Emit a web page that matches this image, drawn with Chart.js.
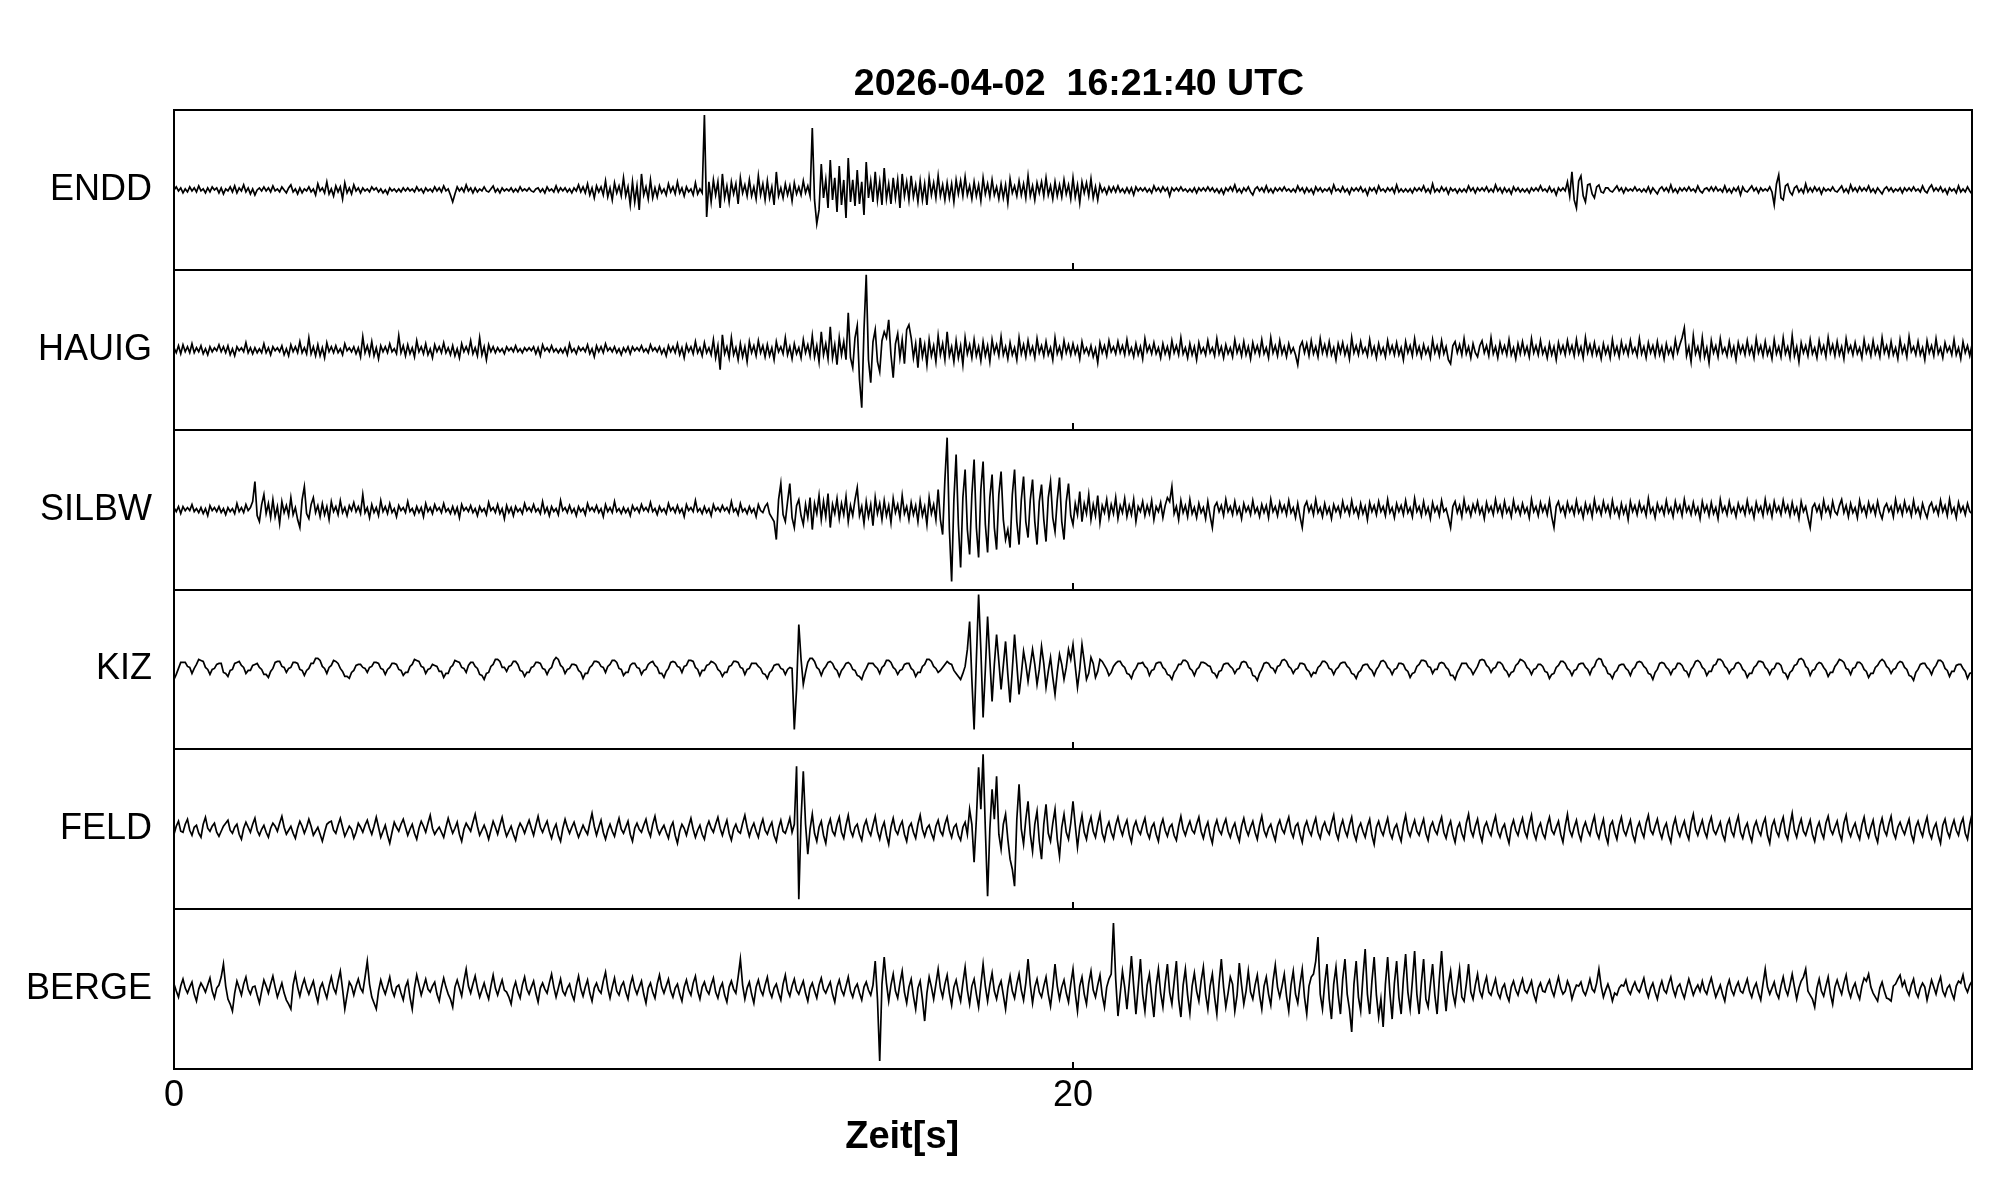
<!DOCTYPE html>
<html>
<head>
<meta charset="utf-8">
<script src="https://cdn.jsdelivr.net/npm/chart.js@4/dist/chart.umd.min.js"></script>
<style>
html,body{margin:0;padding:0;background:#fff;}
#wrap{width:2005px;height:1202px;}
</style>
</head>
<body>
<div id="wrap"><canvas id="c" width="2005" height="1202"></canvas></div>
<script>
// ---------- data ----------
const stations = ['ENDD', 'HAUIG', 'SILBW', 'KIZ', 'FELD', 'BERGE'];
const titleText = '2026-04-02  16:21:40 UTC';
const xAxisTitle = 'Zeit[s]';
const xTickValues = [0, 20];
const timeMin = 0;
const timeMax = 40;
const sampleInterval = 0.05;  // seconds between samples (20 per row = 1 s)
const panelUnits = 160;       // amplitude units spanning one panel

const endd = [
0,3,-1,2,-3,1,-2,3,-1,2,-2,4,-1,1,-3,2,-2,3,0,2,
-3,2,-4,1,-1,3,-2,4,-3,2,-1,5,-2,2,-4,1,-5,0,2,-1,
3,-1,2,-2,4,-1,1,-2,3,0,-3,2,5,-2,1,-4,2,-3,1,-1,
3,-2,1,-5,6,-1,2,-3,8,-4,1,-6,4,-2,3,-9,7,-3,2,-4,
5,-1,2,-3,2,-1,1,-2,3,0,2,-2,1,-3,0,-4,2,-1,1,-2,
1,-2,2,-1,2,-1,1,-2,3,-1,1,-3,2,-1,1,-2,3,-1,2,-2,
4,-1,1,-5,-12,-4,3,-1,2,-2,5,-1,2,-3,2,-2,1,-1,3,-1,
-2,1,4,-2,1,-3,2,-1,1,-1,2,-2,1,-2,3,-1,1,-1,2,-1,
-2,1,2,-2,1,-3,3,-1,1,-2,4,-2,2,-1,2,-2,1,-3,2,-1,
5,-2,3,-3,6,-5,2,-8,4,-2,3,-5,9,-7,2,-10,7,-3,4,-6,
12,-6,3,-15,8,-12,4,-20,16,-5,3,-9,10,-8,2,-7,4,-3,1,-5,
6,-2,3,-4,8,-3,2,-6,3,-2,1,-5,7,-4,1,-3,75,-27,8,-12,
10,-5,8,-18,16,-8,4,-12,8,-4,6,-14,12,-3,5,-6,10,-6,3,-9,
14,-5,6,-10,9,-8,3,-15,18,-6,2,-8,6,-5,4,-11,7,-4,3,-5,
9,-3,4,-6,62,-10,-34,-20,26,-8,10,-18,30,-10,12,-22,24,-15,10,-28,
32,-12,10,-16,20,-14,8,-25,28,-8,9,-12,18,-10,8,-15,22,-9,6,-14,
12,-8,10,-18,16,-6,8,-10,14,-7,5,-12,9,-10,6,-15,12,-5,7,-8,
14,-6,5,-10,7,-8,6,-12,10,-4,9,-6,13,-5,4,-9,8,-6,5,-11,
12,-4,6,-7,10,-5,3,-9,6,-8,5,-13,11,-3,4,-6,9,-5,6,-8,
14,-6,4,-10,7,-3,8,-6,12,-5,4,-9,8,-6,5,-7,10,-4,5,-9,
12,-7,5,-13,8,-3,7,-6,11,-8,3,-10,5,-2,2,-4,3,-2,3,-2,
4,-2,1,-3,2,-3,2,-5,3,-1,2,-1,2,-2,1,-3,4,-1,2,-2,
3,-1,2,-6,2,-1,2,-1,3,-1,1,-2,1,-2,2,-3,2,-1,2,-1,
3,-1,2,-2,1,-3,1,-4,2,-1,3,-1,5,-2,1,-3,2,-1,3,-2,
-5,1,3,-1,2,-2,4,-2,1,-3,2,-1,2,-1,3,-1,1,-2,1,-2,
4,-1,2,-3,2,-2,1,-4,3,-1,2,-2,1,-1,2,-3,5,-1,1,-2,
3,-2,1,-4,2,-1,2,-1,3,-2,1,-5,2,-1,2,-3,4,-1,1,-2,
2,-1,2,-3,5,-2,1,-2,1,-2,1,-3,2,-1,2,-1,4,-2,1,-3,
6,-2,1,-2,3,-1,2,-4,2,-1,1,-3,1,-2,1,-2,4,-1,2,-3,
2,-1,2,-1,3,-2,1,-2,5,-1,2,-3,2,-2,1,-4,3,-1,2,-2,
1,-2,1,-3,2,-1,2,-1,4,-1,1,-2,3,-2,1,-5,2,-1,2,-1,
8,-6,18,-10,-18,9,14,-6,-12,5,6,-4,-8,3,5,-2,-3,2,2,-1,
-2,1,4,-1,2,-3,2,-1,1,-1,3,-1,1,-2,1,-2,3,-3,2,-1,
-4,1,3,-1,2,-2,5,-2,1,-3,2,-1,2,-1,3,-1,1,-2,4,-1,
-3,1,2,-1,3,-1,3,-1,1,-2,4,-2,1,-3,2,-1,3,-5,3,-1,
-2,1,4,-1,2,-3,2,-1,1,-1,3,-2,-15,6,15,-8,-10,4,6,-2,
-5,2,4,-2,1,-3,6,-2,2,-2,3,-1,2,-4,2,-1,1,-1,3,-1,
-2,1,4,-2,1,-3,5,-1,2,-2,3,-1,2,-1,4,-2,1,-3,2,-1,
-4,1,3,-1,2,-2,1,-1,2,-3,2,-1,2,-1,3,-1,1,-2,4,-1,
-3,2,5,-1,2,-1,3,-2,1,-4,2,-1,1,-3,4,-2,1,-2,3,-1,
-4];

const hauig = [
2,-3,4,-4,5,-2,3,-3,6,-3,2,-2,4,-4,1,-5,3,-2,2,-1,
5,-2,3,-3,4,-5,1,-6,3,-1,2,-2,7,-3,2,-4,2,-3,1,-3,
6,-3,2,-5,3,-1,2,-2,4,-5,1,-6,5,-2,3,-3,8,-3,2,-4,
12,-4,3,-6,5,-6,2,-8,7,-2,3,-3,4,-3,1,-5,6,-1,2,-2,
3,-4,2,-7,13,-3,4,-5,8,-6,2,-9,4,-2,3,-3,6,-2,1,-4,
14,-3,4,-6,5,-4,2,-7,9,-2,3,-4,6,-5,1,-8,5,-2,3,-3,
7,-3,2,-5,4,-6,1,-8,6,-2,3,-3,9,-4,2,-6,12,-5,3,-10,
5,-2,3,-3,2,-2,1,-4,3,-1,2,-2,4,-2,1,-3,2,-1,2,-1,
3,-4,2,-6,5,-1,2,-2,4,-2,1,-3,1,-3,2,-5,6,-2,1,-4,
3,-1,2,-2,5,-4,1,-7,4,-2,3,-3,6,-1,2,-2,3,-3,1,-5,
2,-2,3,-4,3,-1,2,-1,4,-2,1,-3,5,-1,2,-2,3,-4,1,-6,
4,-2,3,-3,6,-5,2,-8,5,-2,3,-4,8,-3,2,-6,7,-3,2,-5,
10,-8,4,-20,15,-4,3,-8,12,-5,2,-10,6,-7,3,-12,8,-3,4,-6,
9,-3,4,-7,5,-6,2,-10,8,-2,3,-4,12,-5,3,-9,6,-4,2,-8,
10,-3,5,-6,14,-7,4,-12,18,-5,6,-9,23,-8,5,-15,12,-5,8,-10,
37,-8,-18,12,24,-30,-58,20,75,-10,-33,8,20,-12,-22,9,18,12,30,-5,
-28,6,16,-8,10,-14,20,25,12,-8,6,-18,12,-7,5,-15,10,-6,4,-12,
14,-5,6,-10,18,-6,3,-12,9,-8,4,-15,12,-4,5,-8,10,-6,3,-11,
8,-6,4,-12,10,-3,5,-6,13,-5,3,-9,7,-5,2,-10,12,-4,5,-7,
9,-4,3,-8,11,-3,4,-6,8,-5,2,-10,12,-4,3,-7,9,-3,5,-5,
6,-4,3,-9,8,-3,2,-5,4,-7,1,-13,7,-3,4,-6,9,-2,3,-4,
8,-3,4,-5,10,-4,2,-7,6,-5,3,-9,11,-2,4,-4,7,-4,2,-8,
6,-4,3,-7,9,-3,4,-5,12,-4,2,-8,6,-5,3,-10,7,-3,2,-5,
9,-3,2,-6,11,-4,3,-8,5,-4,2,-7,10,-3,4,-6,8,-5,3,-9,
7,-3,4,-5,10,-4,2,-8,12,-3,4,-6,9,-4,3,-7,6,-3,2,-5,
-15,3,8,-3,6,-6,9,-4,3,-7,11,-3,5,-5,8,-5,2,-10,6,-3,
7,-5,3,-9,12,-3,4,-5,8,-3,2,-6,10,-4,3,-8,6,-4,2,-7,
9,-3,4,-5,7,-5,2,-10,8,-3,4,-6,11,-4,3,-7,5,-4,2,-8,
10,-3,4,-6,9,-4,3,-10,-14,4,8,-3,5,-5,11,-4,3,-8,6,-3,
-7,4,9,-3,4,-6,12,-4,3,-8,7,-3,4,-5,10,-5,2,-9,6,-4,
8,-4,3,-7,11,-3,4,-5,9,-4,2,-8,6,-5,3,-10,7,-3,4,-5,
9,-3,4,-6,10,-4,3,-8,12,-3,5,-5,7,-5,2,-9,6,-4,3,-8,
10,-4,3,-7,8,-3,4,-5,9,-3,2,-6,11,-4,3,-8,7,-3,4,-6,
8,-5,3,-9,6,-4,2,-7,10,-3,5,12,22,-6,3,-12,14,-4,3,-8,
12,-7,2,-13,9,-3,4,-7,11,-3,2,-6,8,-5,3,-10,7,-3,4,-5,
9,-4,3,-8,11,-3,4,-6,8,-5,2,-9,10,-4,3,-7,12,-4,3,-8,
14,-6,3,-12,7,-3,4,-6,10,-4,2,-8,9,-3,4,-7,12,-3,5,-6,
8,-5,3,-9,11,-2,4,-5,7,-4,2,-8,10,-3,4,-6,9,-4,3,-7,
12,-3,4,-6,8,-5,2,-9,10,-3,4,-7,13,-2,3,-5,8,-5,2,-10,
9,-3,4,-6,11,-4,2,-8,7,-2,3,-5,10,-5,2,-9,8,-3,4,-6,
5];

const silbw = [
2,-2,3,-4,3,-1,2,-1,5,-2,1,-3,2,-4,1,-6,4,-1,2,-2,
3,-3,1,-5,2,-2,1,-4,6,-2,2,-3,5,-1,2,8,28,-6,-12,5,
15,-4,6,-8,10,-7,3,-14,8,-3,4,-6,12,-5,2,-10,-18,10,23,-4,
-9,5,12,-3,4,-7,6,-5,3,-10,8,-2,3,-5,9,-3,2,-6,4,-1,
7,-2,3,-4,15,-3,2,-8,5,-3,2,-6,9,-2,3,-4,6,-3,1,-7,
4,-1,2,-3,8,-2,1,-5,3,-3,2,-7,6,-2,2,-4,5,-1,2,-3,
6,-2,1,-4,3,-4,2,-8,5,-1,2,-2,4,-3,1,-6,3,-2,1,-5,
7,-1,2,-3,5,-4,1,-9,4,-3,2,-6,3,-2,1,-4,6,-1,2,-2,
5,-2,1,-4,8,-3,2,-6,3,-2,1,-5,9,-1,2,-3,4,-3,1,-6,
3,-2,1,-5,6,-1,2,-2,4,-3,1,-7,5,-2,2,-3,8,-2,1,-4,
2,-3,1,-6,4,-1,2,-3,5,-1,2,-2,7,-2,1,-5,3,-2,1,-4,
6,-1,2,-3,4,-3,1,-7,5,-1,2,-2,9,-2,1,-4,3,-3,1,-6,
5,-1,2,-2,4,-1,2,-3,8,-2,1,-5,6,-2,1,-4,3,-3,1,-7,
5,-1,-3,3,6,-4,-8,-12,-30,10,26,-5,-12,8,26,-8,-18,4,10,-6,
-15,5,-8,12,-20,6,-4,14,-10,8,-7,16,-18,5,-4,11,-9,6,-5,13,
-12,4,-6,10,22,-6,3,-14,8,-7,5,-16,12,-4,6,-10,9,-6,4,-13,
11,-3,5,-8,14,-4,3,-10,7,-5,4,-12,9,-6,3,-15,12,-4,5,-10,
20,-10,-25,30,72,-20,-72,10,55,-15,-58,12,40,-20,-45,15,50,-18,-48,20,
48,-15,-43,12,35,-18,-40,15,38,-10,-30,-20,-38,15,40,-12,-35,10,33,-12,
-28,10,30,-12,-35,8,25,-10,-32,12,28,-8,-22,10,32,-12,-30,8,26,-6,
-15,6,-5,18,-12,6,-4,15,-10,5,-6,14,-13,4,-3,10,-8,5,-4,12,
-9,4,-3,11,-7,4,-5,10,-12,3,-2,8,-6,4,-4,9,-10,3,-2,7,
-8,4,12,8,23,-4,3,-10,9,-3,4,-7,10,-4,2,-8,6,-3,2,-9,
8,-6,-18,3,7,-2,4,-6,10,-2,3,-5,8,-4,2,-9,6,-2,3,-5,
9,-3,2,-7,5,-3,4,-8,10,-2,3,-6,7,-2,4,-5,9,-3,2,-8,
6,-7,-18,3,8,-2,4,-5,10,-3,2,-7,6,-4,2,-9,5,-2,3,-6,
8,-2,3,-5,9,-3,2,-7,6,-4,3,-10,7,-2,4,-5,8,-2,3,-6,
10,-3,2,-8,6,-2,4,-5,9,-3,2,-7,11,-2,3,-6,8,-4,2,-9,
7,-2,3,-6,9,-2,1,-8,-18,3,8,-3,4,-7,10,-2,3,-6,5,-2,
8,-4,2,-9,7,-2,3,-5,10,-2,4,-6,8,-3,2,-7,9,-2,3,-5,
6,-3,2,-8,10,-2,3,-6,7,-2,4,-5,9,-7,-18,3,8,-2,3,-6,
7,-2,3,-5,9,-3,2,-8,6,-3,4,-7,10,-2,3,-5,8,-2,4,-6,
9,-3,2,-7,6,-4,3,-10,8,-2,4,-5,7,-2,3,-6,11,-3,2,-8,
6,-2,3,-5,9,-3,2,-7,8,-2,4,-6,10,-2,3,-5,7,-4,2,-9,
8,-2,4,-6,7,-4,2,-9,10,-2,3,-5,8,-3,2,-7,6,-2,3,-5,
9,-3,2,-8,7,-2,3,-6,10,-3,4,-7,8,-2,3,-5,9,-2,4,-6,
7,-4,2,-9,8,-2,3,-8,-18,2,6,-2,4,-7,9,-2,3,-6,8,-2,
-5,4,10,-3,4,-7,6,-3,2,-8,9,-2,3,-6,7,-2,4,-5,8,-3,
-9,2,6,-2,3,-7,10,-2,4,-5,8,-2,3,-6,9,-3,2,-7,6,-2,
-8,3,7,-2,3,-5,9,-2,4,-6,10,-3,2,-8,7,-2,3,-5,6,-2,
-4];

const kiz = [
-10,-5,1,7,7,7,3,2,-4,1,5,10,9,8,2,0,-5,0,1,5,
6,6,-3,-4,-7,-1,0,6,7,8,4,2,-4,-1,-1,4,5,6,2,0,
-5,-5,-8,-2,1,7,8,8,3,2,-3,1,2,7,7,6,0,-1,-6,-1,
1,6,6,11,11,9,3,1,-4,2,4,9,8,6,1,-2,-7,-7,-9,-3,
-1,4,5,5,2,1,-3,2,3,7,7,6,1,0,-5,0,2,6,6,5,
0,-1,-6,-3,-3,3,5,10,9,8,3,2,-4,0,1,5,4,3,-2,-2,
-8,-4,-4,2,4,9,8,7,2,1,-3,4,7,7,3,1,-5,-6,-10,-4,
-3,3,5,10,10,8,2,2,-2,3,4,8,8,5,-1,-2,-7,-3,-3,2,
3,7,7,6,1,0,-5,0,2,9,12,10,4,2,-4,0,1,5,5,4,
-1,-3,-9,-4,-4,2,4,8,8,7,3,2,-3,3,5,9,9,7,1,0,
-6,-3,-3,4,6,6,2,1,-5,-1,0,5,7,8,4,2,-4,-4,-8,-2,
1,7,8,7,3,2,-3,3,4,9,9,8,2,0,-6,-1,-1,4,5,8,
7,5,0,-2,-7,-3,-3,3,4,8,8,7,2,1,-5,0,1,6,6,6,
3,1,-4,-5,-9,-3,-1,4,5,5,1,0,-5,0,2,1,-60,-20,45,10,
-15,-3,7,11,11,8,2,0,-6,0,3,7,8,6,1,-1,-7,-1,2,6,
7,5,0,-1,-6,-7,-10,-3,1,6,6,6,3,1,-4,2,4,9,9,7,
2,0,-5,-1,0,5,6,6,1,-1,-7,-3,-3,3,5,10,10,8,3,1,
-3,-1,2,5,8,6,5,-1,-4,-7,-10,-4,3,20,48,-10,-60,10,75,20,
-48,0,53,10,-32,5,35,8,-20,4,28,-5,-33,0,35,5,-25,-5,18,5,
-12,4,20,5,-15,0,23,6,-18,-2,12,-8,-25,-3,15,5,-10,2,20,10,
25,3,-18,0,25,8,-10,-4,12,6,-8,-2,10,8,4,0,-6,-3,3,6,
8,8,4,2,-4,-5,-9,-2,1,6,6,7,3,1,-6,-1,0,6,7,7,
2,0,-5,-6,-10,-3,0,5,5,9,9,7,1,-1,-6,0,2,7,7,6,
4,3,-3,-4,-8,-2,-1,5,6,6,3,1,-4,0,1,7,8,7,2,1,
-6,-7,-11,-4,0,6,7,6,2,1,-3,3,4,9,10,8,3,1,-4,0,
1,6,6,5,0,-2,-7,-3,-4,2,4,8,8,6,1,0,-5,0,2,6,
7,7,3,1,-4,-5,-9,-3,-1,4,5,5,1,-1,-6,0,3,8,9,7,
2,0,-5,0,1,6,6,5,0,-2,-8,-4,-3,3,5,9,9,8,3,2,
-4,0,0,6,7,6,2,0,-6,-6,-10,-3,1,6,6,6,2,0,-5,-1,
3,9,10,9,4,2,-3,1,2,7,7,5,0,-2,-7,-3,-2,4,6,10,
9,7,2,0,-5,0,1,5,5,3,-2,-3,-9,-5,-4,2,4,8,8,6,
1,-1,-6,-1,0,5,6,6,2,0,-5,1,3,9,11,10,4,2,-4,-5,
-9,-3,-1,4,5,5,1,-1,-6,0,2,7,8,7,3,1,-4,-5,-10,-3,
0,6,7,6,2,0,-5,0,1,6,6,4,-1,-2,-7,0,3,8,9,7,
2,0,-6,-2,-2,4,5,10,10,8,3,1,-4,0,1,6,7,5,0,-2,
-8,-4,-4,2,4,8,8,7,2,0,-5,0,1,6,6,4,-3,-4,-9,-3,
-1,4,5,10,11,9,3,1,-6,-1,0,5,7,6,2,-1,-7,-3,-3,3,
6,10,9,7,1,0,-5,1,2,7,7,5,0,-2,-8,-4,-4,2,4,8,
10,8,3,1,-4,0,1,6,8,7,2,0,-6,-7,-11,-3,0,5,6,6,
2,0,-5,1,4,9,9,7,1,-1,-7,-2,-2,4,5,5,1,-2,-9,-4,
-3];

const feld = [
-5,3,8,-2,-3,5,10,-1,-6,2,4,-4,-8,5,12,1,-2,3,6,-3,
-7,-2,3,6,9,-1,-4,2,5,-5,-10,1,7,2,-3,5,11,-1,-6,0,
4,-3,-8,1,6,3,-2,6,13,2,-5,-1,3,-4,-9,1,8,3,-4,2,
10,3,-6,-2,2,-5,-12,-3,5,7,8,-1,-4,4,11,2,-7,-2,3,0,
-9,-3,6,2,-3,4,9,1,-5,3,12,2,-8,-2,4,-6,-14,-3,7,2,
-2,5,10,2,-6,0,5,-4,-10,1,8,3,-3,6,14,1,-5,-1,2,-3,
-8,2,11,3,-4,1,7,-5,-12,0,6,2,-2,7,15,3,-6,-1,4,-2,
-10,-1,8,2,-5,4,12,1,-7,-2,3,-5,-11,0,6,2,-4,3,9,1,
-6,4,13,2,-3,3,8,-2,-9,0,5,-6,-12,1,10,2,-4,2,7,-1,
-8,-2,4,-1,-5,6,16,3,-6,2,9,-3,-10,-1,5,-2,-7,3,11,0,
-4,2,8,-5,-12,1,6,0,-3,4,10,-1,-7,5,13,1,-5,0,4,-3,
-9,2,7,-6,-14,-2,5,1,-6,3,11,0,-8,-1,4,-5,-10,2,8,1,
-3,5,12,1,-6,2,9,-4,-11,0,5,-2,-4,6,14,2,-7,1,6,-2,
-8,3,10,-1,-5,2,7,-6,-12,1,9,-2,-4,3,11,-3,5,63,-70,10,
58,5,-25,0,15,-4,-12,2,8,-6,-14,3,10,-2,-6,5,12,-3,-9,4,
14,-1,-7,2,5,-5,-11,3,9,-1,-6,4,13,-2,-10,1,7,-6,-15,2,
11,-1,-5,3,8,-5,-12,2,6,-3,-9,5,14,0,-7,1,4,-4,-10,3,
9,-2,-6,5,12,-1,-8,2,5,-6,-11,2,7,-5,20,5,-33,10,62,20,
75,0,-67,0,40,10,53,-5,-20,5,15,-10,-30,-40,-57,10,45,0,-15,10,
28,-5,-22,5,18,-12,-30,5,25,-4,-12,6,20,-10,-27,2,15,-3,-10,6,
28,4,-18,2,14,-3,-10,4,12,-2,-8,5,15,-4,-11,1,7,-3,-9,4,
12,1,-6,3,9,-5,-13,2,8,-1,-5,4,11,-3,-9,2,6,-5,-12,3,
10,-1,-7,2,5,-6,-11,3,13,0,-6,2,8,-1,-4,5,12,-2,-9,1,
7,-6,-14,2,9,-1,-5,4,10,-2,-8,1,6,-5,-12,3,11,0,-6,2,
8,-3,-10,4,13,-1,-7,1,5,-4,-11,3,9,0,-4,5,12,-2,-8,3,
6,-5,-13,2,8,-1,-6,4,11,-3,-9,2,7,-1,-5,6,14,-3,-10,2,
9,-1,-7,4,12,-4,-11,1,6,-2,-8,3,10,-6,-15,2,8,-1,-6,3,
11,-3,-9,1,5,-5,-12,4,14,-1,-7,2,9,-2,-6,3,10,-4,-11,2,
7,-1,-5,5,12,-3,-9,2,8,-5,-13,1,6,-4,-10,6,15,-1,-7,3,
10,-4,-12,2,7,-1,-6,5,13,-2,-8,1,5,-6,-14,2,9,-1,-6,4,
11,-2,-8,5,14,-3,-10,1,6,-4,-9,4,12,-1,-5,2,8,-5,-13,3,
15,-1,-7,2,9,-4,-11,1,7,-1,-6,5,13,-3,-9,2,10,-6,-14,4,
8,-3,-10,4,12,-1,-6,2,9,-5,-12,1,7,-2,-8,6,14,-1,-5,3,
10,-2,-9,1,6,-6,-13,3,11,-1,-7,2,8,-4,-10,6,15,0,-6,2,
9,-2,-8,5,12,-1,-5,1,7,-5,-11,4,10,-2,-7,5,13,-3,-9,1,
6,-5,-12,2,8,-1,-6,5,11,-6,-14,3,9,-2,-7,5,12,-4,-10,4,
16,-1,-8,3,10,-2,-6,2,9,-5,-12,1,7,-3,-9,6,13,0,-5,2,
8,-4,-11,6,14,-1,-7,1,6,-4,-10,4,12,-2,-8,2,9,-6,-13,3,
11,-1,-6,5,13,-3,-9,2,7,0,-5,3,10,-5,-12,2,8,-1,-7,4,
12,-3,-9,1,6,-6,-14,4,10,-2,-8,2,9,-1,-6,5,11,-4,-10,5,
15];

const berge = [
5,-2,-8,3,10,1,-4,2,7,-5,-12,0,6,2,-3,4,11,-2,-9,1,
4,12,25,3,-10,-15,-22,-4,8,1,-6,5,12,0,-5,2,3,-6,-14,-2,
9,3,-4,5,13,2,-8,-1,6,-4,-11,-15,-20,4,15,2,-7,3,10,1,
-5,2,8,-4,-13,1,6,-2,-9,3,12,1,-4,8,18,0,-20,-6,7,3,
-6,3,10,1,-3,12,28,5,-8,-14,-20,-2,9,1,-5,3,12,-1,-7,2,
4,-4,-11,2,8,-8,-20,1,14,4,-6,2,10,0,-3,3,7,-5,-12,1,
11,2,-5,-10,-18,2,9,1,-7,8,20,3,-4,5,13,1,-8,-1,6,-3,
-10,3,14,1,-6,2,9,-1,-3,-8,-15,0,7,-3,-9,4,12,0,-5,2,
8,-4,-13,1,6,0,-4,6,15,2,-8,1,10,-2,-6,1,5,-5,-11,3,
13,0,-7,2,9,-4,-12,1,6,-1,-4,8,17,1,-9,2,11,-2,-6,3,
7,-3,-10,4,12,1,-5,2,8,-5,-14,1,6,-3,-9,5,14,2,-4,3,
10,-2,-8,1,5,-5,-12,2,9,-1,-6,6,13,-2,-10,2,7,-1,-5,4,
11,-3,-9,1,6,-6,-13,2,8,0,-4,12,30,4,-10,1,7,-5,-14,2,
9,-1,-6,4,12,-2,-8,1,5,-4,-11,5,14,-1,-7,3,10,-1,-5,2,
8,-4,-12,1,6,-2,-9,4,11,0,-4,2,7,-5,-13,2,9,-1,-6,3,
12,-2,-8,1,5,-4,-11,2,7,-1,-6,4,28,-10,-72,5,32,6,-12,4,
15,-2,-9,6,18,-3,-14,2,10,-7,-20,1,8,-10,-32,-4,12,2,-10,5,
20,1,-8,5,14,-4,-16,2,9,-3,-12,6,22,-1,-15,3,10,-5,-18,4,
25,3,-12,4,16,-2,-10,2,8,-6,-20,1,13,-2,-9,5,15,-1,-11,6,
30,4,-14,2,10,-3,-8,3,12,-5,-17,2,25,3,-10,2,9,-4,-13,5,
20,-4,-22,3,12,-5,-15,6,18,-1,-8,4,14,-6,-18,2,10,15,66,10,
-27,-5,18,2,-20,5,33,3,-25,2,30,-5,-22,4,15,-8,-28,3,20,-4,
-18,6,25,-3,-15,7,28,-10,-28,4,20,-6,-24,3,16,-2,-12,8,22,-5,
-20,3,15,-8,-25,6,30,2,-18,-4,12,5,-22,-6,26,4,-15,-2,18,-3,
-10,4,14,-6,-20,3,12,-5,-16,8,24,2,-8,3,15,-7,-22,4,18,-5,
-14,5,20,-8,-25,3,12,15,28,52,-5,-20,6,25,-10,-30,5,22,-6,-25,
10,30,-5,-20,-43,5,28,-8,-22,12,40,-5,-25,8,32,-6,-28,-10,-38,5,
32,-4,-30,6,28,-8,-25,10,35,-3,-20,8,38,-5,-25,6,30,-10,-18,4,
25,-6,-25,10,38,2,-22,5,18,-4,-15,3,20,-8,-12,5,25,-3,-10,4,
15,-2,-8,4,12,-3,-6,2,10,-4,-9,1,5,-6,-12,2,8,-1,-6,3,
10,-1,-4,2,8,-5,-12,1,6,-2,-3,4,9,-1,-7,3,12,1,-5,-2,
8,2,-10,-2,4,3,7,-2,-6,1,10,0,-3,6,20,3,-8,-1,5,-2,
-12,-4,-6,1,4,3,9,-1,-5,2,7,0,-3,4,11,-1,-8,1,6,-3,
-10,1,8,-1,-4,5,12,0,-7,2,5,-3,-9,1,10,2,-6,0,4,-2,
8,-1,-5,4,11,1,-8,-2,4,-5,-12,2,9,-1,-6,2,7,-2,-4,3,
10,-2,-8,1,6,-4,-11,5,20,2,-5,1,7,-4,-9,3,12,0,-6,4,
15,2,-10,1,8,12,20,-2,-6,-10,-18,1,10,-2,-7,3,12,-5,-15,2,
9,1,-5,6,14,-1,-8,1,6,-4,-10,3,11,8,15,2,-4,-8,-12,1,
7,-2,-9,-10,-12,3,5,10,14,3,8,-1,-6,4,10,-3,-8,1,6,2,
-11,-1,9,2,-5,5,12,-2,-7,1,4,-4,-10,3,8,6,14,2,-3,4,
8];

const traces = [endd, hauig, silbw, kiz, feld, berge];

// ---------- chart ----------
const FONT = "'Liberation Sans', Arial, Helvetica, sans-serif";
const nPanels = stations.length;
const panelCenter = i => nPanels - 0.5 - i;

const datasets = traces.map((arr, i) => ({
  label: stations[i],
  data: arr.map((v, k) => ({ x: Math.round(k * sampleInterval * 1000) / 1000, y: panelCenter(i) + v / panelUnits })),
  borderColor: '#000',
  borderWidth: 1.7,
  pointRadius: 0,
  tension: 0,
  fill: false
}));

const framePlugin = {
  id: 'frame',
  afterDatasetsDraw(chart) {
    const { ctx, chartArea: a, scales: { x, y } } = chart;
    ctx.save();
    ctx.strokeStyle = '#000';
    ctx.lineWidth = 2;
    ctx.strokeRect(a.left, a.top, a.right - a.left, a.bottom - a.top);
    ctx.beginPath();
    for (let k = 1; k < nPanels; k++) {
      const py = Math.round(y.getPixelForValue(k));
      ctx.moveTo(a.left, py);
      ctx.lineTo(a.right, py);
    }
    ctx.stroke();
    ctx.beginPath();
    for (let k = 0; k < nPanels; k++) {
      const py = Math.round(y.getPixelForValue(k));
      xTickValues.forEach(v => {
        const px = Math.round(x.getPixelForValue(v));
        ctx.moveTo(px, py);
        ctx.lineTo(px, py - 7);
      });
    }
    ctx.stroke();
    ctx.fillStyle = '#000';
    ctx.textAlign = 'center';
    ctx.textBaseline = 'middle';
    ctx.font = 'bold 37.5px ' + FONT;
    ctx.fillText(titleText, (a.left + a.right) / 2 + 6, a.top - 25);
    ctx.font = 'bold 38px ' + FONT;
    ctx.fillText(xAxisTitle, x.getPixelForValue(16.2), a.bottom + 69);
    ctx.restore();
  }
};

new Chart(document.getElementById('c').getContext('2d'), {
  type: 'line',
  data: { datasets },
  options: {
    responsive: false,
    animation: false,
    devicePixelRatio: 1,
    layout: { padding: { left: 0, right: 33, top: 110, bottom: 0 } },
    plugins: {
      legend: { display: false },
      tooltip: { enabled: false },
      title: { display: false }
    },
    scales: {
      x: {
        type: 'linear',
        min: timeMin,
        max: timeMax,
        afterBuildTicks: s => { s.ticks = xTickValues.map(v => ({ value: v })); },
        afterFit: s => { s.height = 133; },
        ticks: { color: '#000', font: { family: FONT, size: 36 }, padding: 5, maxRotation: 0, autoSkip: false },
        grid: { display: false, drawTicks: false },
        border: { display: false }
      },
      y: {
        type: 'linear',
        min: 0,
        max: nPanels,
        afterBuildTicks: s => { s.ticks = stations.map((n, i) => ({ value: panelCenter(i) })); },
        afterFit: s => { s.width = 174; },
        ticks: {
          color: '#000',
          font: { family: FONT, size: 36 },
          padding: 22,
          autoSkip: false,
          callback: v => stations[Math.round(nPanels - 0.5 - v)]
        },
        grid: { display: false, drawTicks: false },
        border: { display: false }
      }
    }
  },
  plugins: [framePlugin]
});
</script>
</body>
</html>
